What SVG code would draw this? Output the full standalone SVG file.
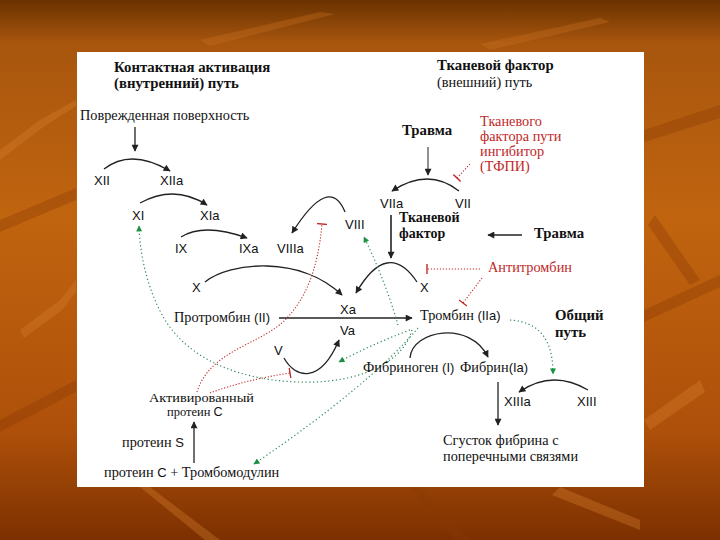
<svg xmlns="http://www.w3.org/2000/svg" width="720" height="540" viewBox="0 0 720 540">
<defs>
<linearGradient id="bg" x1="0" y1="0" x2="0" y2="1">
<stop offset="0" stop-color="#6a3200"/>
<stop offset="0.08" stop-color="#a8560e"/>
<stop offset="0.4" stop-color="#c0640f"/>
<stop offset="0.8" stop-color="#ae500a"/>
<stop offset="1" stop-color="#7c3000"/>
</linearGradient>
<marker id="ah" viewBox="0 0 10 10" refX="9" refY="5" markerWidth="8" markerHeight="7" orient="auto" markerUnits="userSpaceOnUse"><path d="M0,0 L10,5 L0,10 z" fill="#222"/></marker>
<marker id="ahg" viewBox="0 0 10 10" refX="9" refY="5" markerWidth="7" markerHeight="6" orient="auto" markerUnits="userSpaceOnUse"><path d="M0,0 L10,5 L0,10 z" fill="#1a9040"/></marker>
<marker id="tbar" viewBox="-1 -5 2 10" refX="0" refY="0" markerWidth="2" markerHeight="10" orient="auto" markerUnits="userSpaceOnUse"><line x1="0" y1="-5" x2="0" y2="5" stroke="#c02828" stroke-width="1.4"/></marker>
</defs>
<style>
.sf{font-family:"Liberation Serif","Times New Roman",serif;font-size:14.3px;fill:#111}
.ss{font-family:"Liberation Sans",Arial,sans-serif;font-size:13px;fill:#111}
.b{font-weight:bold;font-size:14.8px}
.red{fill:#c02828}
.sm{font-size:12.5px}
.arc{fill:none;stroke:#222;stroke-width:1.3}
.ln{fill:none;stroke:#222;stroke-width:1.3}
.rd{fill:none;stroke:#c02828;stroke-width:1.1;stroke-dasharray:1.2 1.8}
.gd{fill:none;stroke:#2a8a58;stroke-width:1.2;stroke-dasharray:1.2 2.6}
</style>
<rect x="0" y="0" width="720" height="540" fill="url(#bg)"/>
<g id="texture" opacity="0.35">
<polygon points="0,220 76,188 76,200 0,232" fill="#8a3a06"/>
<polygon points="0,150 40,120 76,100 76,106 42,128 0,160" fill="#d88030"/>
<polygon points="20,330 60,300 76,280 76,292 62,310 24,338" fill="#d88030"/>
<polygon points="0,420 76,380 76,392 0,432" fill="#8a3a06"/>
<polygon points="644,130 720,105 720,118 644,142" fill="#8a3a06"/>
<polygon points="655,215 700,280 690,285 648,225" fill="#8a3a06"/>
<polygon points="644,310 720,275 720,287 644,322" fill="#8a3a06"/>
<polygon points="644,420 700,380 705,392 650,430" fill="#d88030"/>
<polygon points="150,487 220,540 205,540 140,487" fill="#d88030"/>
<polygon points="420,487 470,540 455,540 410,487" fill="#8a3a06"/>
<polygon points="560,487 640,520 640,530 552,495" fill="#d88030"/>
<polygon points="200,40 320,12 335,14 210,46" fill="#c87020"/>
<polygon points="480,44 600,18 610,22 490,50" fill="#c87020"/>
</g>
<rect x="77" y="52" width="567" height="435" fill="#ffffff"/>
<g id="connectors">
<line class="ln" x1="135" y1="127" x2="135" y2="151" marker-end="url(#ah)"/>
<path class="arc" d="M104,169 Q131,148 170,171" marker-end="url(#ah)"/>
<path class="arc" d="M140,203 Q174.5,184 207,205" marker-end="url(#ah)"/>
<path class="arc" d="M181,237 Q204,222.5 247,238" marker-end="url(#ah)"/>
<path class="arc" d="M345,212 Q329.5,173.5 292,233" marker-end="url(#ah)"/>
<path class="arc" d="M205,282 C230,262 300,255 342,295" marker-end="url(#ah)"/>
<path class="arc" d="M417,282 Q387.5,238.5 356,293" marker-end="url(#ah)"/>
<line class="ln" x1="279" y1="318" x2="412" y2="318" marker-end="url(#ah)"/>
<line class="ln" x1="428" y1="147" x2="428" y2="175" marker-end="url(#ah)" style="stroke-width:1"/>
<path class="arc" d="M459,191 Q428.5,167 392,191" marker-end="url(#ah)"/>
<line class="ln" x1="391" y1="215" x2="391" y2="258" marker-end="url(#ah)" style="stroke-width:1.6"/>
<line class="ln" x1="522" y1="235" x2="488" y2="235" marker-end="url(#ah)" style="stroke-width:1.6"/>
<path class="arc" d="M410,358 C412,330 470,320 488,357" marker-end="url(#ah)"/>
<line class="ln" x1="498" y1="382" x2="498" y2="425" marker-end="url(#ah)"/>
<path class="arc" d="M588,390 Q552.5,369 519,392" marker-end="url(#ah)"/>
<path class="arc" d="M284,358 C295,378 320,385 339,340" marker-end="url(#ah)"/>
<line class="ln" x1="194" y1="463" x2="194" y2="422" marker-end="url(#ah)"/>
<line class="rd" x1="470" y1="164" x2="457" y2="178" marker-end="url(#tbar)"/>
<line class="rd" x1="480" y1="269" x2="427" y2="269" marker-end="url(#tbar)"/>
<line class="rd" x1="482" y1="278" x2="463" y2="303" marker-end="url(#tbar)"/>
<path class="rd" d="M197,392 C210,350 260,345 285,320 C305,300 318,270 322,224" marker-end="url(#tbar)"/>
<path class="rd" d="M210,393 Q245,380 290,373" marker-end="url(#tbar)"/>
<path class="gd" d="M412,330 C400,372 340,384 298,382 C240,380 190,360 165,320 C150,295 140,260 139,226" marker-end="url(#ahg)"/>
<path class="gd" d="M410,330 Q370,345 339,362" marker-end="url(#ahg)"/>
<path class="gd" d="M398,325 Q385,280 364,237" marker-end="url(#ahg)"/>
<path class="gd" d="M418,328 Q370,385 254,464" marker-end="url(#ahg)"/>
<path class="gd" d="M510,320 C540,322 553,340 553,374" marker-end="url(#ahg)"/>
</g>
<g id="n-contact"><text class="sf b" x="114" y="72">Контактная активация</text><text class="sf b" x="114" y="88">(внутренний) путь</text></g>
<g id="n-tf-path"><text class="sf b" x="437" y="70">Тканевой фактор</text><text class="sf" x="437" y="87">(внешний) путь</text></g>
<g id="n-surface"><text class="sf" x="80" y="120">Поврежденная поверхность</text></g>
<g id="n-xii"><text class="ss" x="94" y="185">XII</text></g>
<g id="n-xiia"><text class="ss" x="160" y="185">XIIa</text></g>
<g id="n-xi"><text class="ss" x="132" y="220">XI</text></g>
<g id="n-xia"><text class="ss" x="200" y="220">XIa</text></g>
<g id="n-ix"><text class="ss" x="175" y="253">IX</text></g>
<g id="n-ixa"><text class="ss" x="239" y="253">IXa</text></g>
<g id="n-viiia"><text class="ss" x="277" y="253">VIIIa</text></g>
<g id="n-viii"><text class="ss" x="345" y="229">VIII</text></g>
<g id="n-x-left"><text class="ss" x="192" y="292">X</text></g>
<g id="n-xa"><text class="ss" x="340" y="314">Xa</text></g>
<g id="n-prothrombin"><text class="sf" x="174" y="322">Протромбин <tspan class="ss">(II)</tspan></text></g>
<g id="n-va"><text class="ss" x="340" y="335">Va</text></g>
<g id="n-v"><text class="ss" x="274" y="355">V</text></g>
<g id="n-trauma1"><text class="sf b" x="402" y="135">Травма</text></g>
<g id="n-tfpi"><text class="sf red" x="480" y="126">Тканевого</text><text class="sf red" x="480" y="141">фактора пути</text><text class="sf red" x="480" y="156">ингибитор</text><text class="sf red" x="480" y="171">(ТФПИ)</text></g>
<g id="n-viia"><text class="ss" x="380" y="208">VIIa</text></g>
<g id="n-vii"><text class="ss" x="455" y="208">VII</text></g>
<g id="n-tf"><text class="sf b" x="399" y="222" style="font-size:14px">Тканевой</text><text class="sf b" x="399" y="238" style="font-size:14px">фактор</text></g>
<g id="n-trauma2"><text class="sf b" x="534" y="238">Травма</text></g>
<g id="n-antithrombin"><text class="sf red" x="488" y="272">Антитромбин</text></g>
<g id="n-x-right"><text class="ss" x="420" y="292">X</text></g>
<g id="n-thrombin"><text class="sf" x="420" y="320">Тромбин <tspan class="ss">(IIa)</tspan></text></g>
<g id="n-common"><text class="sf b" x="555" y="320">Общий</text><text class="sf b" x="555" y="337">путь</text></g>
<g id="n-fibrinogen"><text class="sf" x="363" y="372">Фибриноген <tspan class="ss">(I)</tspan></text></g>
<g id="n-fibrin"><text class="sf" x="460" y="372">Фибрин<tspan class="ss">(Ia)</tspan></text></g>
<g id="n-xiiia"><text class="ss" x="504" y="406">XIIIa</text></g>
<g id="n-xiii"><text class="ss" x="577" y="406">XIII</text></g>
<g id="n-clot"><text class="sf" x="443" y="445">Сгусток фибрина с</text><text class="sf" x="443" y="461">поперечными связями</text></g>
<g id="n-apc"><text class="sf sm" x="149" y="402" textLength="105" lengthAdjust="spacingAndGlyphs">Активированный</text><text class="sf sm" x="167" y="416">протеин <tspan class="ss" style="font-size:12.5px">C</tspan></text></g>
<g id="n-ps"><text class="sf" x="122" y="447">протеин <tspan class="ss">S</tspan></text></g>
<g id="n-pc-tm"><text class="sf" x="104" y="477">протеин <tspan class="ss">C</tspan> + Тромбомодулин</text></g>
</svg>
